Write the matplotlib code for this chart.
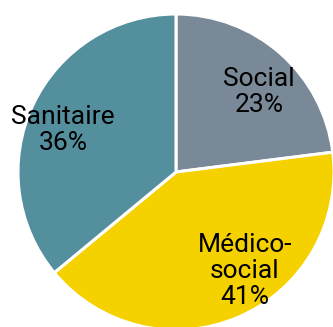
import matplotlib
matplotlib.use("Agg")
import matplotlib.pyplot as plt

labels = ["Social", "Médico-\nsocial", "Sanitaire"]
shares = [23, 41, 36]
colors = ["#7a8997", "#f5d100", "#548f9e"]

# where each label sits, in pixels of the 333x327 image
label_px = [(259, 92), (245, 271), (63, 130)]

W, H = 333, 327
CX, CY, R = 176, 172, 158

fig = plt.figure(figsize=(W / 100, H / 100), dpi=100)
ax = fig.add_axes([0, 0, 1, 1])
ax.pie(
    shares,
    colors=colors,
    startangle=90,
    counterclock=False,
    radius=1.0,
    wedgeprops=dict(edgecolor="white", linewidth=2.2),
)
ax.set_xlim(-CX / R, (W - CX) / R)
ax.set_ylim(-(H - CY) / R, CY / R)
ax.set_aspect("auto")
ax.axis("off")

for lab, val, (px, py) in zip(labels, shares, label_px):
    ax.text(
        (px - CX) / R,
        (CY - py) / R,
        f"{lab}\n{val}%",
        ha="center",
        va="center",
        fontsize=19,
        family="Roboto",
        color="#000000",
        linespacing=1.13,
    )

fig.savefig("out.png", dpi=100)
